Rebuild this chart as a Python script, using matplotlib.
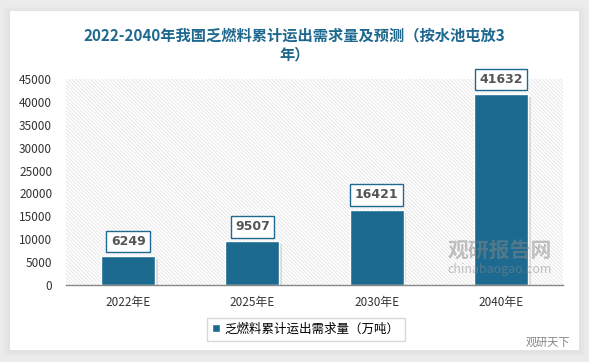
import matplotlib
matplotlib.use("Agg")
import matplotlib.pyplot as plt
from matplotlib.patches import Rectangle

plt.rcParams['font.family'] = ['Noto Sans CJK SC', 'DejaVu Sans']

# data
years = ['2022年E', '2025年E', '2030年E', '2040年E']
demand = [6249, 9507, 16421, 41632]
series_name = '乏燃料累计运出需求量（万吨）'
title = '2022-2040年我国乏燃料累计运出需求量及预测（按水池屯放3\n年）'

bar_color = '#1c6a8f'
title_color = '#1f6890'

fig = plt.figure(figsize=(5.89, 3.62), dpi=100)
fig.patch.set_facecolor('#ececec')

# white card with soft shadow
for i, a in enumerate([0.04, 0.05, 0.06]):
    d = (3 - i) * 0.004
    fig.patches.append(Rectangle((10/589 - d, 1 - 352/362 - d), 569/589 + 2*d, 341/362 + 2*d,
                                 transform=fig.transFigure, facecolor='#b0b0b0',
                                 alpha=a, edgecolor='none', zorder=0))
fig.patches.append(Rectangle((10/589, 1 - 350/362), 569/589, 339/362,
                             transform=fig.transFigure, facecolor='white',
                             edgecolor='none', zorder=1))

ax = fig.add_axes([66/589, 1 - 285/362, 497/589, 206/362])
ax.set_facecolor('white')
ax.set_zorder(2)

# hatched plot background
plt.rcParams['hatch.color'] = '#dedede'
plt.rcParams['hatch.linewidth'] = 0.5
ax.add_patch(Rectangle((0, 0), 1, 1, transform=ax.transAxes, facecolor='white',
                       edgecolor='#dedede', hatch='\\' * 9, linewidth=0, zorder=0))

x = range(len(years))
# shadows
ax.bar([i + 0.02 for i in x], [v - 300 for v in demand], width=0.44, bottom=-300,
       color='#bfbfbf', alpha=0.5, zorder=2)
bars = ax.bar(x, demand, width=0.435, color=bar_color, edgecolor='white',
              linewidth=1.0, zorder=3)

for i, v in zip(x, demand):
    ax.annotate(str(v), (i, v), xytext=(0, 6), textcoords='offset points',
                ha='center', va='bottom', fontsize=9, fontweight='bold', color='#555555',
                family=['DejaVu Sans'],
                bbox=dict(boxstyle='square,pad=0.35', facecolor='white',
                          edgecolor=title_color, linewidth=1.0), zorder=5)

ax.set_xlim(-0.5, 3.5)
ax.set_ylim(0, 45000)
ax.set_yticks(range(0, 45001, 5000))
ax.set_xticks(list(x))
ax.set_xticklabels(years)
ax.tick_params(axis='both', length=0, labelsize=8.5, colors='#333333')
ax.tick_params(axis='x', pad=8)
ax.tick_params(axis='y', pad=10)
for s in ['top', 'right', 'left']:
    ax.spines[s].set_visible(False)
ax.spines['bottom'].set_color('#888888')
ax.spines['bottom'].set_linewidth(1.0)
ax.spines['bottom'].set_zorder(6)

fig.text(0.5, 1 - 45/362, title, ha='center', va='center', fontsize=11,
         fontweight='bold', color=title_color, linespacing=1.3, zorder=3)

leg = fig.legend([bars], [series_name], loc='center', bbox_to_anchor=(306/589, 1 - 329/362),
                 fontsize=9, frameon=True, fancybox=False, edgecolor='#d0d0d0',
                 handlelength=0.6, handleheight=0.6, handletextpad=0.4, borderpad=0.4)
leg.get_frame().set_linewidth(1.0)
leg.set_zorder(3)

# watermarks
fig.text(500/589, 1 - 250/362, '观研报告网', ha='center', va='center', fontsize=15,
         fontweight='bold', color='#888888', alpha=0.5, zorder=4)
fig.text(500/589, 1 - 270/362, 'chinabaogao.com', ha='center', va='center', fontsize=9,
         color='#888888', alpha=0.5, zorder=4)
fig.text(548/589, 1 - 343/362, '观研天下', ha='center', va='center', fontsize=8,
         color='#666666', alpha=0.8, zorder=4)

fig.savefig('out.png', dpi=100)
